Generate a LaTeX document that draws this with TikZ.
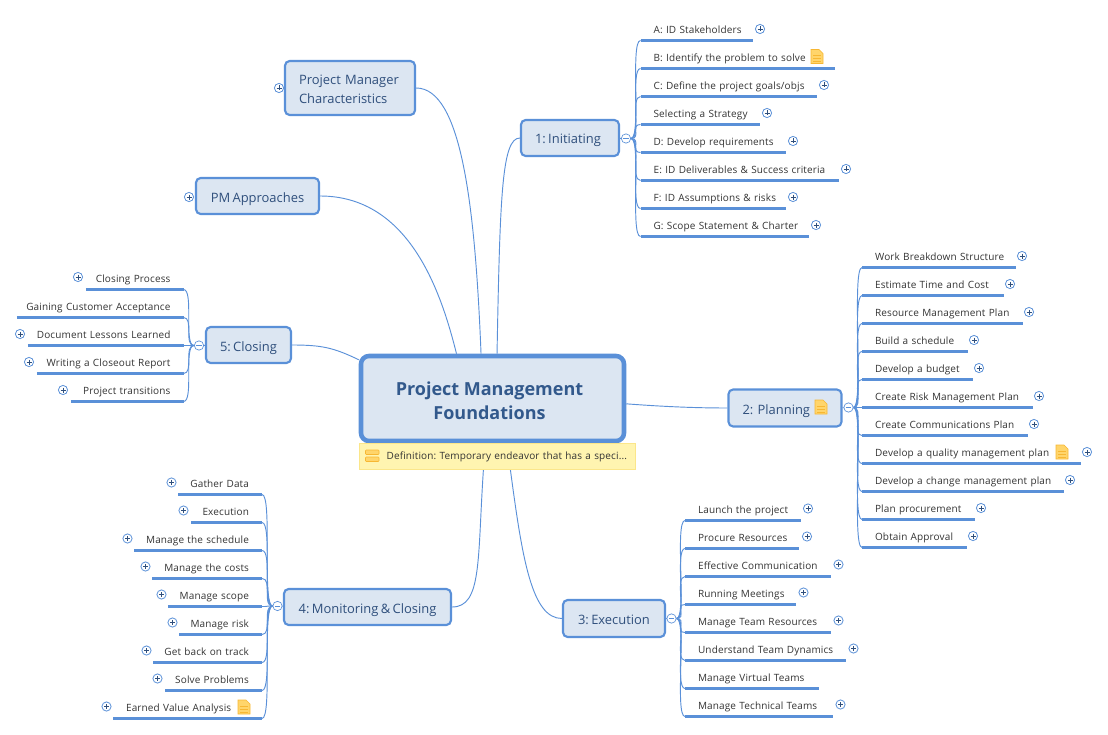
\documentclass[tikz,border=0pt]{standalone}
\usepackage{fontspec}
\setmainfont{Open Sans}
\newfontfamily\leaffont[LetterSpace=1.3]{Open Sans}
\newfontfamily\topicfont[WordSpace=0.7]{Open Sans}
\usepackage{xcolor}
\usetikzlibrary{positioning,backgrounds}
\frenchspacing
\definecolor{mapline}{HTML}{5A90D8}
\definecolor{mapfill}{HTML}{DCE6F2}
\definecolor{maptext}{HTML}{32598C}
\definecolor{topictext}{HTML}{2F4F7C}
\definecolor{leaftext}{HTML}{333333}
\definecolor{notefill}{HTML}{FFF4B0}
\definecolor{noteedge}{HTML}{FBE68A}
\definecolor{iconfill}{HTML}{FFD56B}
\definecolor{iconedge}{HTML}{F7B733}
\tikzset{
	rule/.style={draw=mapline, line width=2.1pt},
	branch/.style={draw=mapline, line width=0.7pt},
	topic/.style n args={2}{draw=mapline, fill=mapfill, line width=1.6pt, rounded corners=3.5pt, text=topictext, font=\topicfont\fontsize{9.7}{13.5}\selectfont, minimum width=#1*0.75pt, minimum height=#2*0.75pt, inner sep=0pt, text height=9pt, text depth=0pt, align=left},
	leafr/.style={anchor=south west, inner xsep=0pt, inner ysep=5.4pt, text depth=0pt, text=leaftext, font=\leaffont\fontsize{7.5}{9}\selectfont, text width=#1*0.75pt, align=left, execute at begin node=\hspace*{9.6pt}, append after command={(\tikzlastnode.south west) edge[rule] (\tikzlastnode.south east)}},
	leafl/.style={anchor=south east, inner xsep=0pt, inner ysep=5.4pt, text depth=0pt, text=leaftext, font=\leaffont\fontsize{7.5}{9}\selectfont, text width=#1*0.75pt, align=right, execute at end node=\hspace*{9.6pt}, append after command={(\tikzlastnode.south west) edge[rule] (\tikzlastnode.south east)}},
	collapse/.style={circle, draw=mapline, fill=white, line width=0.5pt, minimum size=7pt, inner sep=0pt, path picture={\draw[mapline, line width=0.5pt] ([xshift=-2pt]path picture bounding box.center) -- ([xshift=2pt]path picture bounding box.center);}},
	pics/plusmark/.style={code={
		\draw[mapline, fill=white, line width=0.6pt] (0,0) circle (4.6);
		\draw[topictext, line width=0.6pt] (-2.5,0) -- (2.5,0) (0,-2.5) -- (0,2.5);
	}},
	pics/notemark/.style={code={
		\draw[iconedge, fill=iconfill, line width=0.4pt] (-6,-7) -- (2,-7) -- (6,-3) -- (6,7) -- (-6,7) -- cycle;
		\draw[iconedge, line width=0.5pt] (-4,-1) -- (4,-1) (-4,2) -- (4,2) (-4,5) -- (4,5);
	}},
}
\begin{document}
\begin{tikzpicture}[x=0.75pt, y=-0.75pt]
	\useasboundingbox (0,0) rectangle (1108,735);
	% main topics
	\node[topic={263}{85}, line width=3.4pt, rounded corners=6pt, text=maptext, font=\fontsize{13.5}{18}\bfseries, text height=31pt, align=center] (central) at (492.5,398.5) {Project Management\hspace*{4.5pt}\\Foundations\hspace*{4.5pt}};
	\node[anchor=north west, draw=noteedge, fill=notefill, line width=0.6pt, minimum width=276*0.75pt, minimum height=26*0.75pt, inner xsep=0pt, inner ysep=0pt, text width=276*0.75pt, align=left, text=leaftext, font=\leaffont\fontsize{7.5}{9}\selectfont, execute at begin node=\hspace*{20.5pt}] (note) at (359,443) {Definition: Temporary endeavor that has a speci...};
	\node[topic={98}{36}, align=center] (initiating) at (570,138) {1: Initiating\hspace*{3pt}};
	\node[topic={113}{37}, text width=113*0.75pt] (planning) at (785,408) {\hspace*{10.5pt}2: Planning};
	\node[topic={102}{37}, align=center] (execution) at (614,618.5) {3: Execution};
	\node[topic={167}{36}, align=center] (monitoring) at (367.5,607) {4: Monitoring \& Closing};
	\node[topic={85}{36}, align=center] (closing) at (248.5,345) {5: Closing};
	\node[topic={130}{54}, text width=130*0.75pt, text depth=13.5pt] (characteristics) at (350,88) {\hspace*{10.5pt}Project Manager\\\hspace*{10.5pt}Characteristics};
	\node[topic={123}{36}, align=center] (approaches) at (257.5,196) {PM Approaches};
	% collapse circles
	\node[collapse] (cinit) at (626,138.5) {};
	\node[collapse] (cplan) at (848.5,407.5) {};
	\node[collapse] (cexec) at (671.5,618.5) {};
	\node[collapse] (cmoni) at (277.5,606) {};
	\node[collapse] (cclos) at (199,345.5) {};
	% 1: Initiating
	\node[leafr=111.5] (a1) at (640.5,40.5) {A: ID Stakeholders};
	\node[leafr=193.5] (a2) at (640.5,68.5) {B: Identify the problem to solve};
	\node[leafr=175.5] (a3) at (640.5,96.5) {C: Define the project goals/objs};
	\node[leafr=118.5] (a4) at (640.5,124.5) {Selecting a Strategy};
	\node[leafr=144.5] (a5) at (640.5,152.5) {D: Develop requirements};
	\node[leafr=197.5] (a6) at (640.5,180.5) {E: ID Deliverables \& Success criteria};
	\node[leafr=144.5] (a7) at (640.5,208.5) {F: ID Assumptions \& risks};
	\node[leafr=167.5] (a8) at (640.5,236.5) {G: Scope Statement \& Charter};
	% 2: Planning
	\node[leafr=153] (b1) at (862,267.5) {Work Breakdown Structure};
	\node[leafr=141] (b2) at (862,295.5) {Estimate Time and Cost};
	\node[leafr=160] (b3) at (862,323.5) {Resource Management Plan};
	\node[leafr=105] (b4) at (862,351.5) {Build a schedule};
	\node[leafr=110] (b5) at (862,379.5) {Develop a budget};
	\node[leafr=170] (b6) at (862,407.5) {Create Risk Management Plan};
	\node[leafr=165] (b7) at (862,435.5) {Create Communications Plan};
	\node[leafr=218] (b8) at (862,463.5) {Develop a quality management plan};
	\node[leafr=201] (b9) at (862,491.5) {Develop a change management plan};
	\node[leafr=112] (b10) at (862,519.5) {Plan procurement};
	\node[leafr=104] (b11) at (862,547.5) {Obtain Approval};
	% 3: Execution
	\node[leafr=115] (c1) at (685,520.5) {Launch the project};
	\node[leafr=113.5] (c2) at (685,548.5) {Procure Resources};
	\node[leafr=145.5] (c3) at (685,576.5) {Effective Communication};
	\node[leafr=110.5] (c4) at (685,604.5) {Running Meetings};
	\node[leafr=145.5] (c5) at (685,632.5) {Manage Team Resources};
	\node[leafr=160.5] (c6) at (685,660.5) {Understand Team Dynamics};
	\node[leafr=133.5] (c7) at (685,688.5) {Manage Virtual Teams};
	\node[leafr=147.5] (c8) at (685,716.5) {Manage Technical Teams};
	% 4: Monitoring
	\node[leafl=83] (d1) at (262,494.5) {Gather Data};
	\node[leafl=70] (d2) at (262,522.5) {Execution};
	\node[leafl=127] (d3) at (262,550.5) {Manage the schedule};
	\node[leafl=109] (d4) at (262,578.5) {Manage the costs};
	\node[leafl=93] (d5) at (262,606.5) {Manage scope};
	\node[leafl=82] (d6) at (262,634.5) {Manage risk};
	\node[leafl=108] (d7) at (262,662.5) {Get back on track};
	\node[leafl=96] (d8) at (262,690.5) {Solve Problems};
	\node[leafl=148] (d9) at (262,718.5) {Earned Value Analysis\hspace*{13.3pt}};
	% 5: Closing
	\node[leafl=97] (e1) at (183.5,289.5) {Closing Process};
	\node[leafl=166] (e2) at (183.5,317.5) {Gaining Customer Acceptance};
	\node[leafl=155] (e3) at (183.5,345.5) {Document Lessons Learned};
	\node[leafl=146] (e4) at (183.5,373.5) {Writing a Closeout Report};
	\node[leafl=112] (e5) at (183.5,401.5) {Project transitions};
	% icons
	\pic at (760,29) {plusmark};
	\pic at (817,56.5) {notemark};
	\pic at (824,85) {plusmark};
	\pic at (767,113) {plusmark};
	\pic at (793,141) {plusmark};
	\pic at (846,169) {plusmark};
	\pic at (793,197) {plusmark};
	\pic at (816,225) {plusmark};
	\pic at (1022,256) {plusmark};
	\pic at (1010,284) {plusmark};
	\pic at (1029,312) {plusmark};
	\pic at (974,340) {plusmark};
	\pic at (979,368) {plusmark};
	\pic at (1039,396) {plusmark};
	\pic at (1034,424) {plusmark};
	\pic at (1062,452) {notemark};
	\pic at (1087,452) {plusmark};
	\pic at (1070,480) {plusmark};
	\pic at (981,508) {plusmark};
	\pic at (973,536) {plusmark};
	\pic at (821,407) {notemark};
	\pic at (808,508.5) {plusmark};
	\pic at (807,536.5) {plusmark};
	\pic at (838.5,564.5) {plusmark};
	\pic at (803.5,592.5) {plusmark};
	\pic at (838.5,620.5) {plusmark};
	\pic at (853.5,648.5) {plusmark};
	\pic at (840.5,704.5) {plusmark};
	\pic at (171.5,482.5) {plusmark};
	\pic at (183.5,510.5) {plusmark};
	\pic at (127.5,538.5) {plusmark};
	\pic at (145.5,566.5) {plusmark};
	\pic at (161.5,594.5) {plusmark};
	\pic at (172.5,622.5) {plusmark};
	\pic at (146.5,650.5) {plusmark};
	\pic at (157.5,678.5) {plusmark};
	\pic at (106.5,706.5) {plusmark};
	\pic at (244,707) {notemark};
	\pic at (78,277) {plusmark};
	\pic at (20,334) {plusmark};
	\pic at (29,362) {plusmark};
	\pic at (63,390) {plusmark};
	\pic at (279,88) {plusmark};
	\pic at (189,197) {plusmark};
	% note icon
	\draw[iconedge, fill=iconfill, line width=0.4pt, rounded corners=0.6pt] (365.5,450) rectangle (379,454.5);
	\draw[iconedge, fill=iconfill, line width=0.4pt, rounded corners=0.6pt] (365.5,457) rectangle (379,461.5);
	% connectors
	\begin{scope}[on background layer]
		\draw[branch] ([xshift=3.4pt]central.north) .. controls +(3,-160) and +(-18,0) .. (initiating.west);
		\draw[branch] ([xshift=-8.6pt]central.north) .. controls +(-6,-150) and +(45,0) .. (characteristics.east);
		\draw[branch] ([xshift=-27pt]central.north) .. controls +(-15,-60) and +(90,0) .. (approaches.east);
		\draw[branch] ([yshift=-4.5pt]central.north west) .. controls +(-25,-12) and +(30,0) .. (closing.east);
		\draw[branch] ([yshift=-4pt]central.east) .. controls +(40,3) and +(-30,0) .. (planning.west);
		\draw[branch] ([xshift=9.75pt]note.south) .. controls +(12,90) and +(-30,0) .. (execution.west);
		\draw[branch] ([xshift=-10.5pt]note.south) .. controls +(-6,90) and +(30,0) .. (monitoring.east);
		\draw[branch] (initiating) -- (cinit);
		\draw[branch] (planning) -- (cplan);
		\draw[branch] (execution) -- (cexec);
		\draw[branch] (monitoring) -- (cmoni);
		\draw[branch] (closing) -- (cclos);
		\draw[branch] (cinit.east) to[out=0,in=180,out distance=8pt,in distance=8pt] (a1.south west);
		\draw[branch] (cinit.east) to[out=0,in=180,out distance=8pt,in distance=8pt] (a2.south west);
		\draw[branch] (cinit.east) to[out=0,in=180,out distance=8pt,in distance=8pt] (a3.south west);
		\draw[branch] (cinit.east) to[out=0,in=180,out distance=8pt,in distance=8pt] (a4.south west);
		\draw[branch] (cinit.east) to[out=0,in=180,out distance=8pt,in distance=8pt] (a5.south west);
		\draw[branch] (cinit.east) to[out=0,in=180,out distance=8pt,in distance=8pt] (a6.south west);
		\draw[branch] (cinit.east) to[out=0,in=180,out distance=8pt,in distance=8pt] (a7.south west);
		\draw[branch] (cinit.east) to[out=0,in=180,out distance=8pt,in distance=8pt] (a8.south west);
		\draw[branch] (cplan.east) to[out=0,in=180,out distance=8pt,in distance=8pt] (b1.south west);
		\draw[branch] (cplan.east) to[out=0,in=180,out distance=8pt,in distance=8pt] (b2.south west);
		\draw[branch] (cplan.east) to[out=0,in=180,out distance=8pt,in distance=8pt] (b3.south west);
		\draw[branch] (cplan.east) to[out=0,in=180,out distance=8pt,in distance=8pt] (b4.south west);
		\draw[branch] (cplan.east) to[out=0,in=180,out distance=8pt,in distance=8pt] (b5.south west);
		\draw[branch] (cplan.east) to[out=0,in=180,out distance=8pt,in distance=8pt] (b6.south west);
		\draw[branch] (cplan.east) to[out=0,in=180,out distance=8pt,in distance=8pt] (b7.south west);
		\draw[branch] (cplan.east) to[out=0,in=180,out distance=8pt,in distance=8pt] (b8.south west);
		\draw[branch] (cplan.east) to[out=0,in=180,out distance=8pt,in distance=8pt] (b9.south west);
		\draw[branch] (cplan.east) to[out=0,in=180,out distance=8pt,in distance=8pt] (b10.south west);
		\draw[branch] (cplan.east) to[out=0,in=180,out distance=8pt,in distance=8pt] (b11.south west);
		\draw[branch] (cexec.east) to[out=0,in=180,out distance=8pt,in distance=8pt] (c1.south west);
		\draw[branch] (cexec.east) to[out=0,in=180,out distance=8pt,in distance=8pt] (c2.south west);
		\draw[branch] (cexec.east) to[out=0,in=180,out distance=8pt,in distance=8pt] (c3.south west);
		\draw[branch] (cexec.east) to[out=0,in=180,out distance=8pt,in distance=8pt] (c4.south west);
		\draw[branch] (cexec.east) to[out=0,in=180,out distance=8pt,in distance=8pt] (c5.south west);
		\draw[branch] (cexec.east) to[out=0,in=180,out distance=8pt,in distance=8pt] (c6.south west);
		\draw[branch] (cexec.east) to[out=0,in=180,out distance=8pt,in distance=8pt] (c7.south west);
		\draw[branch] (cexec.east) to[out=0,in=180,out distance=8pt,in distance=8pt] (c8.south west);
		\draw[branch] (cmoni.west) to[out=180,in=0,out distance=8pt,in distance=8pt] (d1.south east);
		\draw[branch] (cmoni.west) to[out=180,in=0,out distance=8pt,in distance=8pt] (d2.south east);
		\draw[branch] (cmoni.west) to[out=180,in=0,out distance=8pt,in distance=8pt] (d3.south east);
		\draw[branch] (cmoni.west) to[out=180,in=0,out distance=8pt,in distance=8pt] (d4.south east);
		\draw[branch] (cmoni.west) to[out=180,in=0,out distance=8pt,in distance=8pt] (d5.south east);
		\draw[branch] (cmoni.west) to[out=180,in=0,out distance=8pt,in distance=8pt] (d6.south east);
		\draw[branch] (cmoni.west) to[out=180,in=0,out distance=8pt,in distance=8pt] (d7.south east);
		\draw[branch] (cmoni.west) to[out=180,in=0,out distance=8pt,in distance=8pt] (d8.south east);
		\draw[branch] (cmoni.west) to[out=180,in=0,out distance=8pt,in distance=8pt] (d9.south east);
		\draw[branch] (cclos.west) to[out=180,in=0,out distance=8pt,in distance=8pt] (e1.south east);
		\draw[branch] (cclos.west) to[out=180,in=0,out distance=8pt,in distance=8pt] (e2.south east);
		\draw[branch] (cclos.west) to[out=180,in=0,out distance=8pt,in distance=8pt] (e3.south east);
		\draw[branch] (cclos.west) to[out=180,in=0,out distance=8pt,in distance=8pt] (e4.south east);
		\draw[branch] (cclos.west) to[out=180,in=0,out distance=8pt,in distance=8pt] (e5.south east);
	\end{scope}
\end{tikzpicture}
\end{document}
